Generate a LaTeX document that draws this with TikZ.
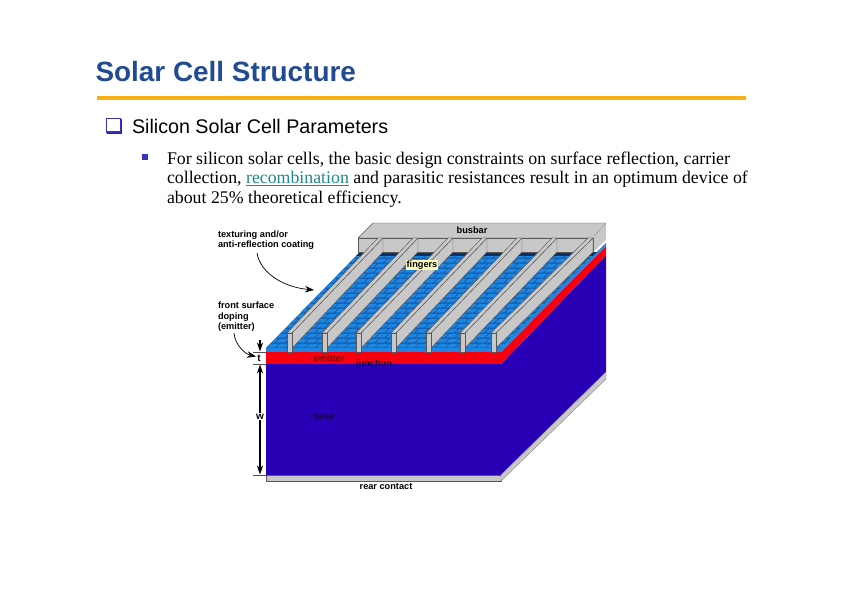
\documentclass[tikz,border=0pt]{standalone}
\usepackage{fontspec}
\setmainfont{Liberation Serif}
\newfontfamily\labelfont{Liberation Sans}
\usetikzlibrary{arrows.meta}

\definecolor{titleblue}{HTML}{234B92}
\definecolor{rulegold}{HTML}{F8B015}
\definecolor{bulletblue}{HTML}{3535C0}
\definecolor{linkteal}{HTML}{1F8A8A}
\definecolor{basecol}{HTML}{2A00B6}
\definecolor{emitcol}{HTML}{F60010}
\definecolor{metal}{HTML}{C8C8C8}
\definecolor{edgecol}{HTML}{585858}
\definecolor{bandcol}{HTML}{1D86E0}
\definecolor{gapcol}{HTML}{1552A0}

\begin{document}
\begin{tikzpicture}[
        x=1pt, y=-1pt,
        every node/.style={inner sep=0pt, outer sep=0pt},
        tag/.style={font=\labelfont\bfseries\fontsize{9.2}{10.6}\selectfont, align=left},
        metalface/.style={fill=metal, draw=edgecol, line width=0.45pt, line join=round},
        dim/.style={line width=1.1pt, -{Stealth[length=9pt,width=6pt]}},
        extline/.style={line width=0.7pt, draw=black!70},
        lead/.style={line width=0.7pt, -{Stealth[length=9pt,width=6.5pt]}}
        ]
    \useasboundingbox (0,0) rectangle (842,596);
    \fill[white] (0,0) rectangle (842,596);

    % heading
    \node[anchor=west, text=titleblue, font=\labelfont\bfseries\fontsize{27.9}{32}\selectfont] (title) at (95.5,72) {Solar Cell Structure};
    \coordinate (ruleL) at (97,98);
    \coordinate (ruleR) at (746,98);
    \draw[rulegold, line width=3.4pt] (ruleL) -- (ruleR);
    \node[fill=bulletblue!70!black, minimum size=15pt] (boxshade) at (114.6,126.2) {};
    \node[draw=bulletblue, line width=1.2pt, minimum size=13.5pt, fill=white] (boxmark) at (113.4,125.2) {};
    \node[anchor=west, font=\labelfont\fontsize{19.7}{23}\selectfont] (head) at (132,126) {Silicon Solar Cell Parameters};
    \node[fill=bulletblue, minimum size=6pt] (dotmark) at (145,157.5) {};
    \node[anchor=north west, align=left, font=\fontsize{17.8}{19.5}\selectfont] (bodytext) at (167,151.5)
        {For silicon solar cells, the basic design constraints on surface reflection, carrier\\
         collection, \textcolor{linkteal}{\underline{recombination}} and parasitic resistances result in an optimum device of\\
         about 25\% theoretical efficiency.};

    % cell body
    \fill[basecol] (266,364) rectangle (501,475);
    \fill[basecol] (501,364) -- (606,255) -- (606,372) -- (501,475) -- cycle;
    \fill[emitcol] (266,352) rectangle (501,364);
    \fill[emitcol] (501,352) -- (606,246) -- (606,255) -- (501,364) -- cycle;
    \draw[metalface] (266,475) rectangle (501,481);
    \draw[metalface, draw=metal!70!black] (501,475) -- (606,372) -- (606,379) -- (501,481) -- cycle;

    % textured top
    \fill[gapcol] (266,348) -- (360,252) -- (597,252) -- (606,243) -- (501,348) -- cycle;
    \begin{scope}
        \clip (266,348) -- (360,252) -- (597,252) -- (606,243) -- (501,348) -- cycle;
        \foreach \r in {0,...,19} {
            \foreach \b in {-1,...,30} {
                \pgfmathsetmacro{\bx}{266+\r*4.9+\b*10+mod(\r,2)*5}
                \pgfmathsetmacro{\by}{347.5-\r*5}
                \fill[bandcol] (\bx,\by) -- ++(8.8,0) -- ++(3.9,-4) -- ++(-8.8,0) -- cycle;
            }
        }
        \fill[gapcol!60!black] (355,252) rectangle (600,255.5);
    \end{scope}
    \fill[bandcol] (266,348) rectangle (501,352);
    \fill[bandcol] (501,348) -- (606,243) -- (606,246) -- (501,352) -- cycle;

    % busbar
    \draw[metalface] (358,238) -- (373,223) -- (606,223) -- (593,238) -- cycle;
    \fill[metal] (593,238) -- (606,223) -- (606,240) -- (593,252) -- cycle;
    \draw[metalface] (358,238) rectangle (593,252);

    % fingers
    \foreach \fx/\rx in {287/383,322/418,356/453,391/487,426/522,460/557,491/593} {
        \draw[metalface] (\fx+5,333) -- (\rx,238) -- (\rx,252) -- (\fx+5,348) -- cycle;
        \draw[metalface] (\fx,333) -- (\rx-5,238) -- (\rx,238) -- (\fx+5,333) -- cycle;
        \draw[metalface] (\fx,333) rectangle (\fx+5,352);
    }

    % labels on the picture
    \node[tag] (busbar) at (472,230) {busbar};
    \node[tag, fill=yellow!25, inner sep=0.6pt] (fingers) at (422,265) {fingers};
    \node[tag, text=red!50!black] (emitter) at (329,358) {emitter};
    \node[tag, text=basecol!35!black] (junction) at (374,364) {junction};
    \node[tag, text=basecol!45!black] (base) at (324,416) {base};
    \node[tag] (rear) at (386,487) {rear contact};
    \node[tag, anchor=north west] (texturing) at (218,230.5) {texturing and/or\\anti-reflection coating};
    \node[tag, anchor=north west] (doping) at (218,302) {front surface\\doping\\(emitter)};

    % leaders
    \coordinate (texEnd) at (314,290);
    \coordinate (dopEnd) at (256,356.5);
    \draw[lead] (257,253) .. controls (260,272) and (282,287) .. (texEnd);
    \draw[lead] (234,333) .. controls (235,345) and (245,354) .. (dopEnd);

    % thickness marks
    \node[tag, font=\labelfont\bfseries\fontsize{10}{11}\selectfont, fill=white, inner sep=1pt] (t) at (259,358) {t};
    \node[tag, font=\labelfont\bfseries\fontsize{10}{11}\selectfont, fill=white, inner sep=1pt] (w) at (260,416.5) {w};
    \coordinate (tTop) at (260,340);
    \coordinate (tHit) at (260,351.5);
    \coordinate (wHit) at (260,364.5);
    \coordinate (wEnd) at (260,474.5);
    \draw[extline] (253,352) -- (266,352);
    \draw[extline] (253,364) -- (266,364);
    \draw[extline] (253,475) -- (266,475);
    \draw[dim] (tTop) -- (tHit);
    \draw[dim] (w) -- (wHit);
    \draw[dim] (w) -- (wEnd);
\end{tikzpicture}
\end{document}
